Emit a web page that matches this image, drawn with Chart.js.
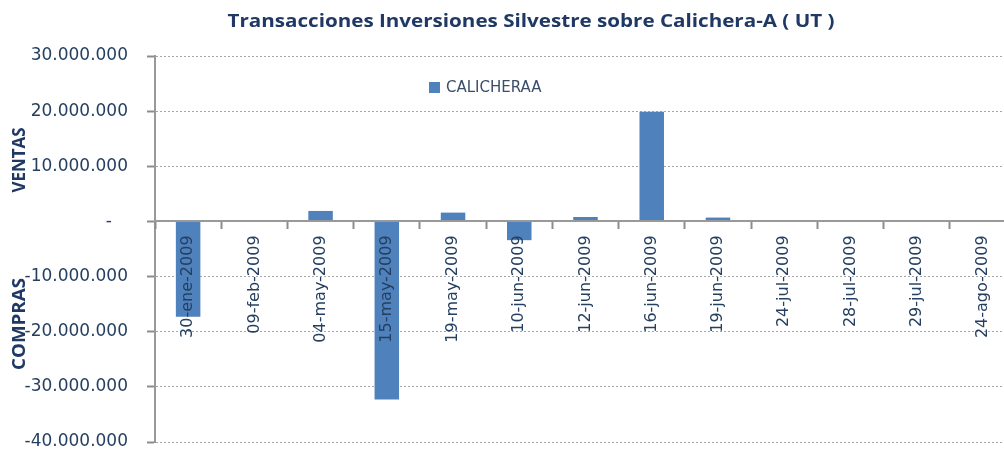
<!DOCTYPE html>
<html>
<head>
<meta charset="utf-8">
<script src="https://cdn.jsdelivr.net/npm/chart.js@4/dist/chart.umd.min.js"></script>
<style>
html,body{margin:0;padding:0;background:#fff;overflow:hidden;width:1004px;height:450px;}
#wrap{position:relative;width:1020px;height:450px;}
canvas{display:block;}
</style>
</head>
<body>
<div id="wrap"><canvas id="c" width="1020" height="450"></canvas></div>
<script>
const categories = ['30-ene-2009','09-feb-2009','04-may-2009','15-may-2009','19-may-2009','10-jun-2009','12-jun-2009','16-jun-2009','19-jun-2009','24-jul-2009','28-jul-2009','29-jul-2009','24-ago-2009'];
const calicheraa = [-17300000, 0, 1900000, -32300000, 1600000, -3400000, 800000, 19900000, 700000, 0, 0, 0, 0];
const yTicks = [30000000, 20000000, 10000000, 0, -10000000, -20000000, -30000000, -40000000];
const titleText = 'Transacciones Inversiones Silvestre sobre Calichera-A ( UT )';
const seriesName = 'CALICHERAA';
const axisTop = 'VENTAS';
const axisBottom = 'COMPRAS';

function fmt(v){
  if (v === 0) return '-   ';
  const s = Math.abs(v).toString().replace(/\B(?=(\d{3})+(?!\d))/g, '.');
  return (v < 0 ? '-' : '') + s;
}

const TXT = '#243F60';
const DARK = '#1F3864';

function fitText(ctx, text, x, y, target, rot){
  const w = ctx.measureText(text).width;
  ctx.save();
  ctx.translate(x, y);
  if (rot) ctx.rotate(rot);
  ctx.scale(target / w, 1);
  ctx.fillText(text, 0, 0);
  ctx.restore();
}

const extras = {
  id: 'extras',
  afterDraw(chart){
    const ctx = chart.ctx;
    ctx.save();
    ctx.font = 'bold 18px "Open Sans"';
    ctx.fillStyle = DARK;
    ctx.textBaseline = 'middle';
    ctx.textAlign = 'center';
    fitText(ctx, titleText, 531, 22, 607, 0);
    ctx.font = 'bold 18px "Open Sans"';
    fitText(ctx, axisTop, 20, 160, 65, -Math.PI/2);
    fitText(ctx, axisBottom, 20, 324, 92, -Math.PI/2);
    ctx.fillStyle = '#4F81BD';
    ctx.fillRect(429, 82, 11, 11);
    ctx.font = '15px "DejaVu Sans"';
    ctx.fillStyle = '#3B4E6B';
    ctx.textAlign = 'left';
    ctx.fillText(seriesName, 446, 88);
    ctx.restore();
  }
};

new Chart(document.getElementById('c'), {
  type: 'bar',
  data: {
    labels: categories,
    datasets: [{
      label: seriesName,
      data: calicheraa,
      backgroundColor: '#4F81BD',
      borderWidth: 0,
      barPercentage: 0.37,
      categoryPercentage: 1.0
    }]
  },
  options: {
    responsive: false,
    animation: false,
    devicePixelRatio: 1,
    layout: { padding: { top: 56, bottom: 8, left: 0, right: 4 } },
    plugins: { legend: { display: false }, title: { display: false }, tooltip: { enabled: false } },
    scales: {
      x: {
        position: { y: 0 },
        afterFit(scale){ scale.height = 0; },
        grid: { display: true, drawOnChartArea: false, drawTicks: true, tickLength: 7, color: '#8c8c8c', tickColor: '#8c8c8c', tickWidth: 2, offset: true, z: 1 },
        border: { display: true, color: '#999999', width: 2, z: 1 },
        ticks: { z: 1, minRotation: 90, maxRotation: 90, autoSkip: false, padding: 7, color: TXT, font: { family: 'DejaVu Sans', size: 16 } }
      },
      y: {
        min: -40000000,
        max: 30000000,
        afterBuildTicks(scale){ scale.ticks = yTicks.map(v => ({ value: v })); },
        afterFit(scale){ scale.width = 155; scale.paddingTop = 0; scale.paddingBottom = 0; },
        grid: { drawOnChartArea: true, color: '#a6a6a6', lineWidth: 1, drawTicks: true, tickLength: 8, tickColor: '#8c8c8c', tickWidth: 2, tickBorderDash: [] },
        border: { display: true, color: '#999999', width: 2, dash: [2, 2] },
        ticks: { padding: 19, color: TXT, font: { family: 'DejaVu Sans', size: 17 }, callback: (v) => fmt(v) }
      }
    }
  },
  plugins: [extras]
});
</script>
</body>
</html>
